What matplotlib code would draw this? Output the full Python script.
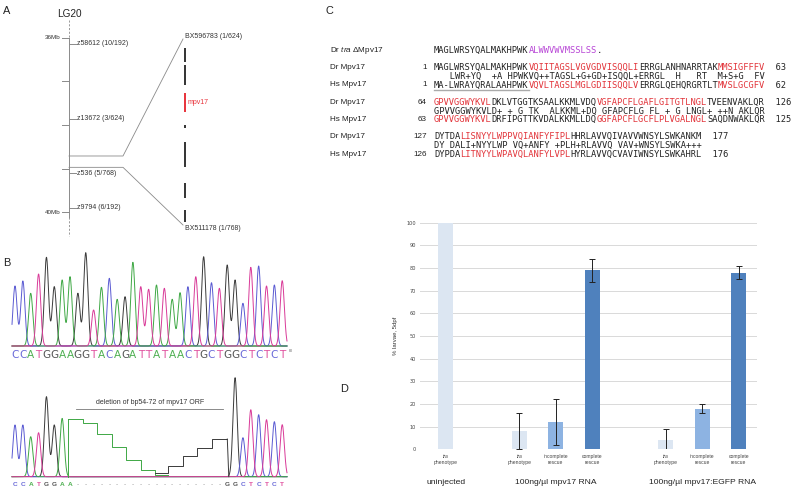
import numpy as np
import matplotlib
matplotlib.use("Agg")
import matplotlib.pyplot as plt

plt.rcParams["mathtext.fontset"] = "custom"
plt.rcParams["mathtext.it"] = "Liberation Sans:italic"
plt.rcParams["mathtext.rm"] = "Liberation Sans"

# ---------------- data ----------------
# Panel A: genetic map (Mb)
mb_ticks = [36, 37, 38, 39, 40]
mb_tick_labels = {36: "36Mb", 40: "40Mb"}
marker_names = ["z58612 (10/192)", "z13672 (3/624)", "z536 (5/768)", "z9794 (6/192)"]
marker_mb = [36.14, 37.86, 39.10, 39.90]
zoom_mb = [38.71, 38.97]
bac_names = ["BX596783 (1/624)", "BX511178 (1/768)"]
# contig segments in zoomed interval (0-100 relative units)
contig_start = [4.8, 14.0, 29.0, 46.2, 55.4, 77.4, 91.9]
contig_end = [12.4, 24.7, 39.2, 47.8, 68.8, 85.5, 98.4]
contig_gene = ["", "", "mpv17", "", "", "", ""]

# Panel B: chromatograms
wt_seq = "CCATGGAAGGTACAGATTATAACTGCTGGCTCTCT"
wt_heights = [60, 65, 52.7, 72, 88.7, 59.3, 66, 69.3, 52.7, 93.3, 36, 58.7, 67.7, 46.7,
              49.3, 83.7, 59.3, 56.7, 61, 57.7, 46.7, 53.3, 59.3, 69.3, 89.3, 63.3, 57.7,
              81, 66, 42.7, 78.7, 80, 60, 61, 65.3]
mut_seq = "CCATGGAA" + "-" * 19 + "GGCTCTCT"
mut_heights = [51.7, 51.7, 40, 44, 80, 51.7, 58.3, 0] + [0] * 19 + [0, 99, 39, 67, 62, 57, 55, 52]
green_step_edges = [68.3, 82.7, 97.3, 111.7, 126.0, 140.7, 155.0, 168.3]
green_step_levels = [57.4, 53.4, 42.4, 30.0, 16.7, 6.7, 1.7]
black_step_edges = [155.0, 168.3, 182.7, 197.3, 211.7, 227.3]
black_step_levels = [3.4, 10.7, 20.7, 28.4, 37.7]

# Panel C: alignment rows  (chunks of (text, colour-key))
align_labels = ["Dr $\\mathit{tra}$ \u0394Mpv17", "Dr Mpv17", "", "Hs Mpv17",
                "Dr Mpv17", "", "Hs Mpv17", "Dr Mpv17", "", "Hs Mpv17"]
align_starts = ["", "1", "", "1", "64", "", "63", "127", "", "126"]
align_rows = [
    [("MAGLWRSYQALMAKHPWK", "k"), ("ALWWVWVMSSLSS", "p"), (".", "k")],
    [("MAGLWRSYQALMAKHPWK", "k"), ("VQIITAGSLVGVGDVISQQLI", "r"), ("ERRGLANHNARRTAK", "k"), ("MMSIGFFFV", "r"), ("  63", "k")],
    [("   LWR+YQ  +A HPWKVQ++TAGSL+G+GD+ISQQL+ERRGL  H   RT  M+S+G  FV", "k")],
    [("MA-LWRAYQRALAAHPWK", "k"), ("VQVLTAGSLMGLGDIISQQLV", "r"), ("ERRGLQEHQRGRTLT", "k"), ("MVSLGCGFV", "r"), ("  62", "k")],
    [("GPVVGGWYKVL", "r"), ("DKLVTGGTKSAALKKMLVDQ", "k"), ("VGFAPCFLGAFLGITGTLNGL", "r"), ("TVEENVAKLQR", "k"), ("  126", "k")],
    [("GPVVGGWYKVLD+ + G TK  ALKKML+DQ GFAPCFLG FL + G LNGL+ ++N AKLQR", "k")],
    [("GPVVGGWYKVL", "r"), ("DRFIPGTTKVDALKKMLLDQ", "k"), ("GGFAPCFLGCFLPLVGALNGL", "r"), ("SAQDNWAKLQR", "k"), ("  125", "k")],
    [("DYTDA", "k"), ("LISNYYLWPPVQIANFYFIPL", "r"), ("HHRLAVVQIVAVVWNSYLSWKANKM", "k"), ("  177", "k")],
    [("DY DALI+NYYLWP VQ+ANFY +PLH+RLAVVQ VAV+WNSYLSWKA+++", "k")],
    [("DYPDA", "k"), ("LITNYYLWPAVQLANFYLVPL", "r"), ("HYRLAVVQCVAVIWNSYLSWKAHRL", "k"), ("  176", "k")],
]
align_row_y = [50.7, 67.7, 76.7, 85.0, 102.3, 111.0, 119.3, 136.7, 145.7, 154.3]

# Panel D: bar chart
bar_pos = [0, 2, 3, 4, 6, 7, 8]
bar_vals = [100, 8, 12, 79, 4, 18, 78]
bar_err = [0, 8, 10, 5, 5, 2, 3]
bar_kind = ["tra", "tra", "incomplete", "complete", "tra", "incomplete", "complete"]
group_names = ["uninjected", "100ng/\u00b5l mpv17 RNA", "100ng/\u00b5l mpv17:EGFP RNA"]
group_centers = [0, 3, 7]
y_ticks = list(range(0, 101, 10))

# ---------------- drawing ----------------
PT = 0.72
fig = plt.figure(figsize=(7.92, 4.92), dpi=100)
bg = fig.add_axes([0, 0, 1, 1])
bg.set_xlim(0, 792)
bg.set_ylim(492, 0)
bg.axis("off")
SANS = ["Liberation Sans", "DejaVu Sans"]

def panel_letter(x, y, s):
    bg.text(x, y, s, fontsize=11 * PT, family=SANS, va="center", ha="left", color="#222")

# ---- Panel A ----
panel_letter(3, 11, "A")
mx = 69
def mb_y(mb):
    return 37.7 + (mb - 36) * 43.65
gray = "#8a8a8a"
bg.text(mx, 14, "LG20", fontsize=10 * PT, family=SANS, ha="center", va="center", color="#222")
bg.plot([mx, mx], [20, mb_y(36)], color=gray, lw=0.6, ls=(0, (2.5, 2)))
bg.plot([mx, mx], [mb_y(36), mb_y(40) + 5], color=gray, lw=0.7)
bg.plot([mx, mx], [mb_y(40) + 5, 236], color=gray, lw=0.6, ls=(0, (2.5, 2)))
for mb in mb_ticks:
    y = mb_y(mb)
    bg.plot([mx - 7, mx], [y, y], color=gray, lw=0.7)
    if mb in mb_tick_labels:
        bg.text(mx - 8, y, mb_tick_labels[mb], fontsize=6.3 * PT, family=SANS,
                ha="right", va="center", color="#333")
for name, mb in zip(marker_names, marker_mb):
    y = mb_y(mb)
    bg.plot([mx, mx + 7], [y, y], color=gray, lw=0.7)
    bg.text(mx + 8, y, name, fontsize=7 * PT, family=SANS, ha="left", va="center", color="#333")
top_y, bot_y = 39, 225
for mb, yt in zip(zoom_mb, [top_y, bot_y]):
    y = mb_y(mb)
    bg.plot([mx, 123, 183], [y, y, yt], color=gray, lw=0.6)
bg.text(185, 36, bac_names[0], fontsize=7 * PT, family=SANS, ha="left", va="center", color="#333")
bg.text(185, 229, bac_names[1], fontsize=7 * PT, family=SANS, ha="left", va="center", color="#333")
cx = 185
for s, e, g in zip(contig_start, contig_end, contig_gene):
    ys = top_y + s / 100 * (bot_y - top_y)
    ye = top_y + e / 100 * (bot_y - top_y)
    col = "#e8323a" if g else "#333333"
    bg.plot([cx, cx], [ys, ye], color=col, lw=1.4, solid_capstyle="butt")
    if g:
        bg.text(cx + 3, (ys + ye) / 2, g, fontsize=7 * PT, family=SANS, color="#e8323a",
                ha="left", va="center")

# ---- Panel B ----
panel_letter(3, 263, "B")
base_col = {"C": "#5a5ad2", "A": "#3fa845", "T": "#d93a98", "G": "#3a3a3a"}
txt_col = {"C": "#6a6ad8", "A": "#4fb052", "T": "#e0509e", "G": "#555555", "-": "#888888"}
x0, dx = 15.0, 7.86
sig = 2.1

def traces(seq, heights, x_lo, x_hi, baseline, ax):
    xs = np.linspace(x_lo, x_hi, 1600)
    for b in "GCAT":
        tr = np.zeros_like(xs)
        for i, (c, h) in enumerate(zip(seq, heights)):
            if c == b and h > 0:
                tr += h * np.exp(-0.5 * ((xs - (x0 + i * dx)) / sig) ** 2)
        ax.plot(xs, baseline - tr, color=base_col[b], lw=0.7)

# top chromatogram
b1 = 346
traces(wt_seq, wt_heights, 12, 287, b1, bg)
for i, c in enumerate(wt_seq):
    bg.text(x0 + i * dx, 355.5, c, fontsize=10.5 * PT, family=["DejaVu Sans"], color=txt_col[c],
            ha="center", va="center")
bg.text(289, 351, "80", fontsize=3.5 * PT, family=SANS, color="#555", ha="left", va="center")

# bottom chromatogram
b2 = 476.7
traces(mut_seq, mut_heights, 12, 287, b2, bg)
ge = np.array(green_step_edges)
gl = np.array(green_step_levels + [green_step_levels[-1]])
bg.plot([ge[0], ge[0]], [b2, b2 - gl[0]], color=base_col["A"], lw=0.7)
bg.step(ge, b2 - gl, where="post", color=base_col["A"], lw=0.7)
bk = np.array(black_step_edges)
bl = np.array(black_step_levels + [black_step_levels[-1]])
bg.step(bk, b2 - bl, where="post", color=base_col["G"], lw=0.7)
bg.plot([bk[-1], bk[-1] + 1.5], [b2 - bl[-1], b2], color=base_col["G"], lw=0.7)
for i, c in enumerate(mut_seq):
    bg.text(x0 + i * dx, 485, c, fontsize=6.5 * PT, family=SANS, color=txt_col[c],
            ha="center", va="center", fontweight="bold" if c != "-" else "normal")
bg.plot([76, 223], [409, 409], color="#777", lw=0.6)
bg.text(150, 402.5, "deletion of bp54-72 of mpv17 ORF", fontsize=7 * PT, family=SANS,
        color="#333", ha="center", va="center")

# ---- Panel C ----
panel_letter(326, 11, "C")
seq_x0, cw = 434.0, 5.25
cmap = {"k": "#222222", "r": "#e2343a", "p": "#b847d6"}
MONO = ["DejaVu Sans Mono"]
lab_x, num_x = 330, 427
for lab, start, chunks, y in zip(align_labels, align_starts, align_rows, align_row_y):
    if lab:
        bg.text(lab_x, y, lab, fontsize=8.2 * PT, family=SANS, ha="left", va="center", color="#222")
    if start:
        bg.text(num_x, y, start, fontsize=8.2 * PT, family=SANS, ha="right", va="center", color="#222")
    pos = 0
    for txt, ck in chunks:
        bg.text(seq_x0 + pos * cw, y, txt, fontsize=8.72 * PT, family=MONO, color=cmap[ck],
                ha="left", va="center")
        pos += len(txt)
# grey underline for the human N-terminus
bg.plot([seq_x0, seq_x0 + 18 * cw], [89.5, 89.5], color="#aaaaaa", lw=1.0)

# ---- Panel D ----
panel_letter(340, 389, "D")
L, R, T, B = 420, 757, 222.7, 449.3
ax = fig.add_axes([L / 792, 1 - B / 492, (R - L) / 792, (B - T) / 492])
ax.set_xlim(-0.71, 8.5)
ax.set_ylim(0, 100)
colors = {"tra": "#dce6f2", "incomplete": "#8db3e2", "complete": "#4f81bd"}
for sp in ax.spines.values():
    sp.set_visible(False)
ax.set_yticks(y_ticks)
ax.yaxis.grid(True, color="#d9d9d9", lw=0.7)
ax.set_axisbelow(True)
ax.tick_params(axis="y", length=0, labelsize=5 * PT, pad=3, labelcolor="#444")
ax.set_xticks([])
for p, v, e, k in zip(bar_pos, bar_vals, bar_err, bar_kind):
    ax.bar(p, v, width=0.41, color=colors[k], zorder=2)
    if e > 0:
        ax.errorbar(p, v, yerr=e, color="#222", lw=0.7, capsize=2, capthick=0.7, zorder=3)
ax.set_ylabel("% larvae, 5dpf", fontsize=6 * PT, family=SANS, color="#333", labelpad=6)
tr = ax.get_xaxis_transform()
for p, k in zip(bar_pos, bar_kind):
    first = "tra" if k == "tra" else k
    second = "phenotype" if k == "tra" else "rescue"
    ax.text(p, -0.03, first, transform=tr, fontsize=5 * PT, family=SANS,
            style="italic" if k == "tra" else "normal",
            ha="center", va="center", color="#444", clip_on=False)
    ax.text(p, -0.06, second, transform=tr, fontsize=5 * PT, family=SANS,
            ha="center", va="center", color="#444", clip_on=False)
for gname, gc in zip(group_names, group_centers):
    ax.text(gc, -0.148, gname, transform=tr, fontsize=8.5 * PT, family=SANS,
            ha="center", va="center", color="#222", clip_on=False)

fig.savefig("out.png", dpi=100)
